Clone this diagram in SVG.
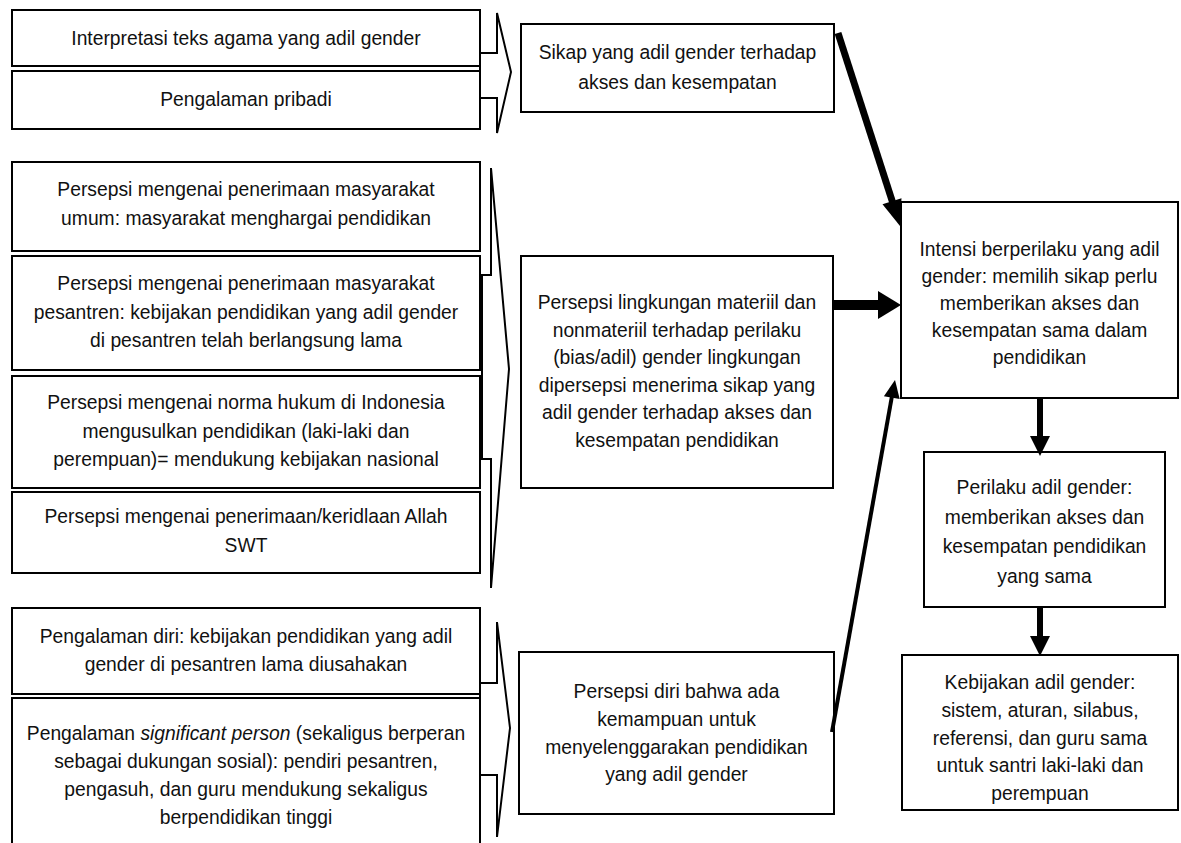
<svg xmlns="http://www.w3.org/2000/svg" width="1181" height="843" viewBox="0 0 1181 843">
<style>
.box{fill:#fff;stroke:#000;stroke-width:2}
.chev{fill:none;stroke:#000;stroke-width:2;stroke-linejoin:miter}
text{font-family:"Liberation Sans",Arial,sans-serif;font-size:19.3px;fill:#111;text-anchor:middle}
.it{font-style:italic}
.ln{stroke:#000;fill:none}
.hd{fill:#000;stroke:none}
</style>
<rect width="1181" height="843" fill="#fff"/>

<g id="n-interpretasi"><rect class="box" x="12" y="10" width="468" height="56"/><text x="246" y="45">Interpretasi teks agama yang adil gender</text></g>
<g id="n-pengalaman-pribadi"><rect class="box" x="12" y="71" width="468" height="58"/><text x="246" y="106">Pengalaman pribadi</text></g>
<g id="chev1"><polygon class="chev" points="480,53 497,53 497,13 511,72 497,133 497,98 480,98"/></g>

<g id="n-sikap"><rect class="box" x="521" y="24" width="313" height="88"/><text x="677.5" y="59">Sikap yang adil gender terhadap</text><text x="677.5" y="89">akses dan kesempatan</text></g>

<g id="n-persepsi-umum"><rect class="box" x="12" y="162" width="468" height="89"/><text x="246" y="196">Persepsi mengenai penerimaan masyarakat</text><text x="246" y="225">umum: masyarakat menghargai pendidikan</text></g>
<g id="n-persepsi-pesantren"><rect class="box" x="12" y="256" width="468" height="114"/><text x="246" y="290">Persepsi mengenai penerimaan masyarakat</text><text x="246" y="318.5">pesantren: kebijakan pendidikan yang adil gender</text><text x="246" y="347">di pesantren telah berlangsung lama</text></g>
<g id="n-persepsi-norma"><rect class="box" x="12" y="376" width="468" height="112"/><text x="246" y="409">Persepsi mengenai norma hukum di Indonesia</text><text x="246" y="437.5">mengusulkan pendidikan (laki-laki dan</text><text x="246" y="466">perempuan)= mendukung kebijakan nasional</text></g>
<g id="n-persepsi-allah"><rect class="box" x="12" y="492" width="468" height="81"/><text x="246" y="523">Persepsi mengenai penerimaan/keridlaan Allah</text><text x="246" y="552">SWT</text></g>
<g id="chev2"><polygon class="chev" points="482,275 491,275 491,168 509,369 491,588 491,459 482,459"/></g>

<g id="n-lingkungan"><rect class="box" x="521" y="256" width="312" height="232"/>
<text x="677" y="309">Persepsi lingkungan materiil dan</text>
<text x="677" y="336.5">nonmateriil terhadap perilaku</text>
<text x="677" y="364">(bias/adil) gender lingkungan</text>
<text x="677" y="391.5">dipersepsi menerima sikap yang</text>
<text x="677" y="419">adil gender terhadap akses dan</text>
<text x="677" y="446.5">kesempatan pendidikan</text></g>

<g id="n-pengalaman-diri"><rect class="box" x="12" y="608" width="468" height="86"/><text x="246" y="643">Pengalaman diri: kebijakan pendidikan yang adil</text><text x="246" y="671">gender di pesantren lama diusahakan</text></g>
<g id="n-significant"><path class="box" d="M12,850 L12,698 L480,698 L480,850"/>
<text x="246" y="740">Pengalaman <tspan class="it">significant person</tspan> (sekaligus berperan</text>
<text x="246" y="768">sebagai dukungan sosial): pendiri pesantren,</text>
<text x="246" y="796">pengasuh, dan guru mendukung sekaligus</text>
<text x="246" y="824">berpendidikan tinggi</text></g>
<g id="chev3"><polygon class="chev" points="480,683 497,683 497,622 510,728 497,837 497,775 480,775"/></g>

<g id="n-persepsi-diri"><rect class="box" x="519" y="652" width="315" height="162"/>
<text x="676.5" y="698">Persepsi diri bahwa ada</text>
<text x="676.5" y="726">kemampuan untuk</text>
<text x="676.5" y="754">menyelenggarakan pendidikan</text>
<text x="676.5" y="781">yang adil gender</text></g>

<g id="n-intensi"><rect class="box" x="901" y="202" width="277" height="196"/>
<text x="1039.5" y="256">Intensi berperilaku yang adil</text>
<text x="1039.5" y="283">gender: memilih sikap perlu</text>
<text x="1039.5" y="310">memberikan akses dan</text>
<text x="1039.5" y="337">kesempatan sama dalam</text>
<text x="1039.5" y="364">pendidikan</text></g>

<g id="n-perilaku"><rect class="box" x="924" y="452" width="241" height="155"/>
<text x="1044.5" y="494">Perilaku adil gender:</text>
<text x="1044.5" y="523.5">memberikan akses dan</text>
<text x="1044.5" y="553">kesempatan pendidikan</text>
<text x="1044.5" y="582.5">yang sama</text></g>

<g id="n-kebijakan"><rect class="box" x="902" y="655" width="276" height="155"/>
<text x="1040" y="689">Kebijakan adil gender:</text>
<text x="1040" y="717">sistem, aturan, silabus,</text>
<text x="1040" y="744.5">referensi, dan guru sama</text>
<text x="1040" y="772">untuk santri laki-laki dan</text>
<text x="1040" y="799.5">perempuan</text></g>

<g id="connectors">
<line class="ln" x1="838" y1="33" x2="892.5" y2="202" stroke-width="7"/>
<polygon class="hd" points="900,226 882.5,204.3 901.5,198.2"/>
<line class="ln" x1="833" y1="305" x2="879" y2="305" stroke-width="10"/>
<polygon class="hd" points="901,305 878,291 878,319"/>
<line class="ln" x1="832" y1="732" x2="891.8" y2="397" stroke-width="4"/>
<polygon class="hd" points="895,380 899.7,399.1 883.9,396.3"/>
<line class="ln" x1="1040" y1="398" x2="1040" y2="438" stroke-width="6"/>
<polygon class="hd" points="1040,456 1030,436 1050,436"/>
<line class="ln" x1="1040" y1="607" x2="1040" y2="638" stroke-width="6"/>
<polygon class="hd" points="1040,656 1030,636 1050,636"/>
</g>
</svg>
